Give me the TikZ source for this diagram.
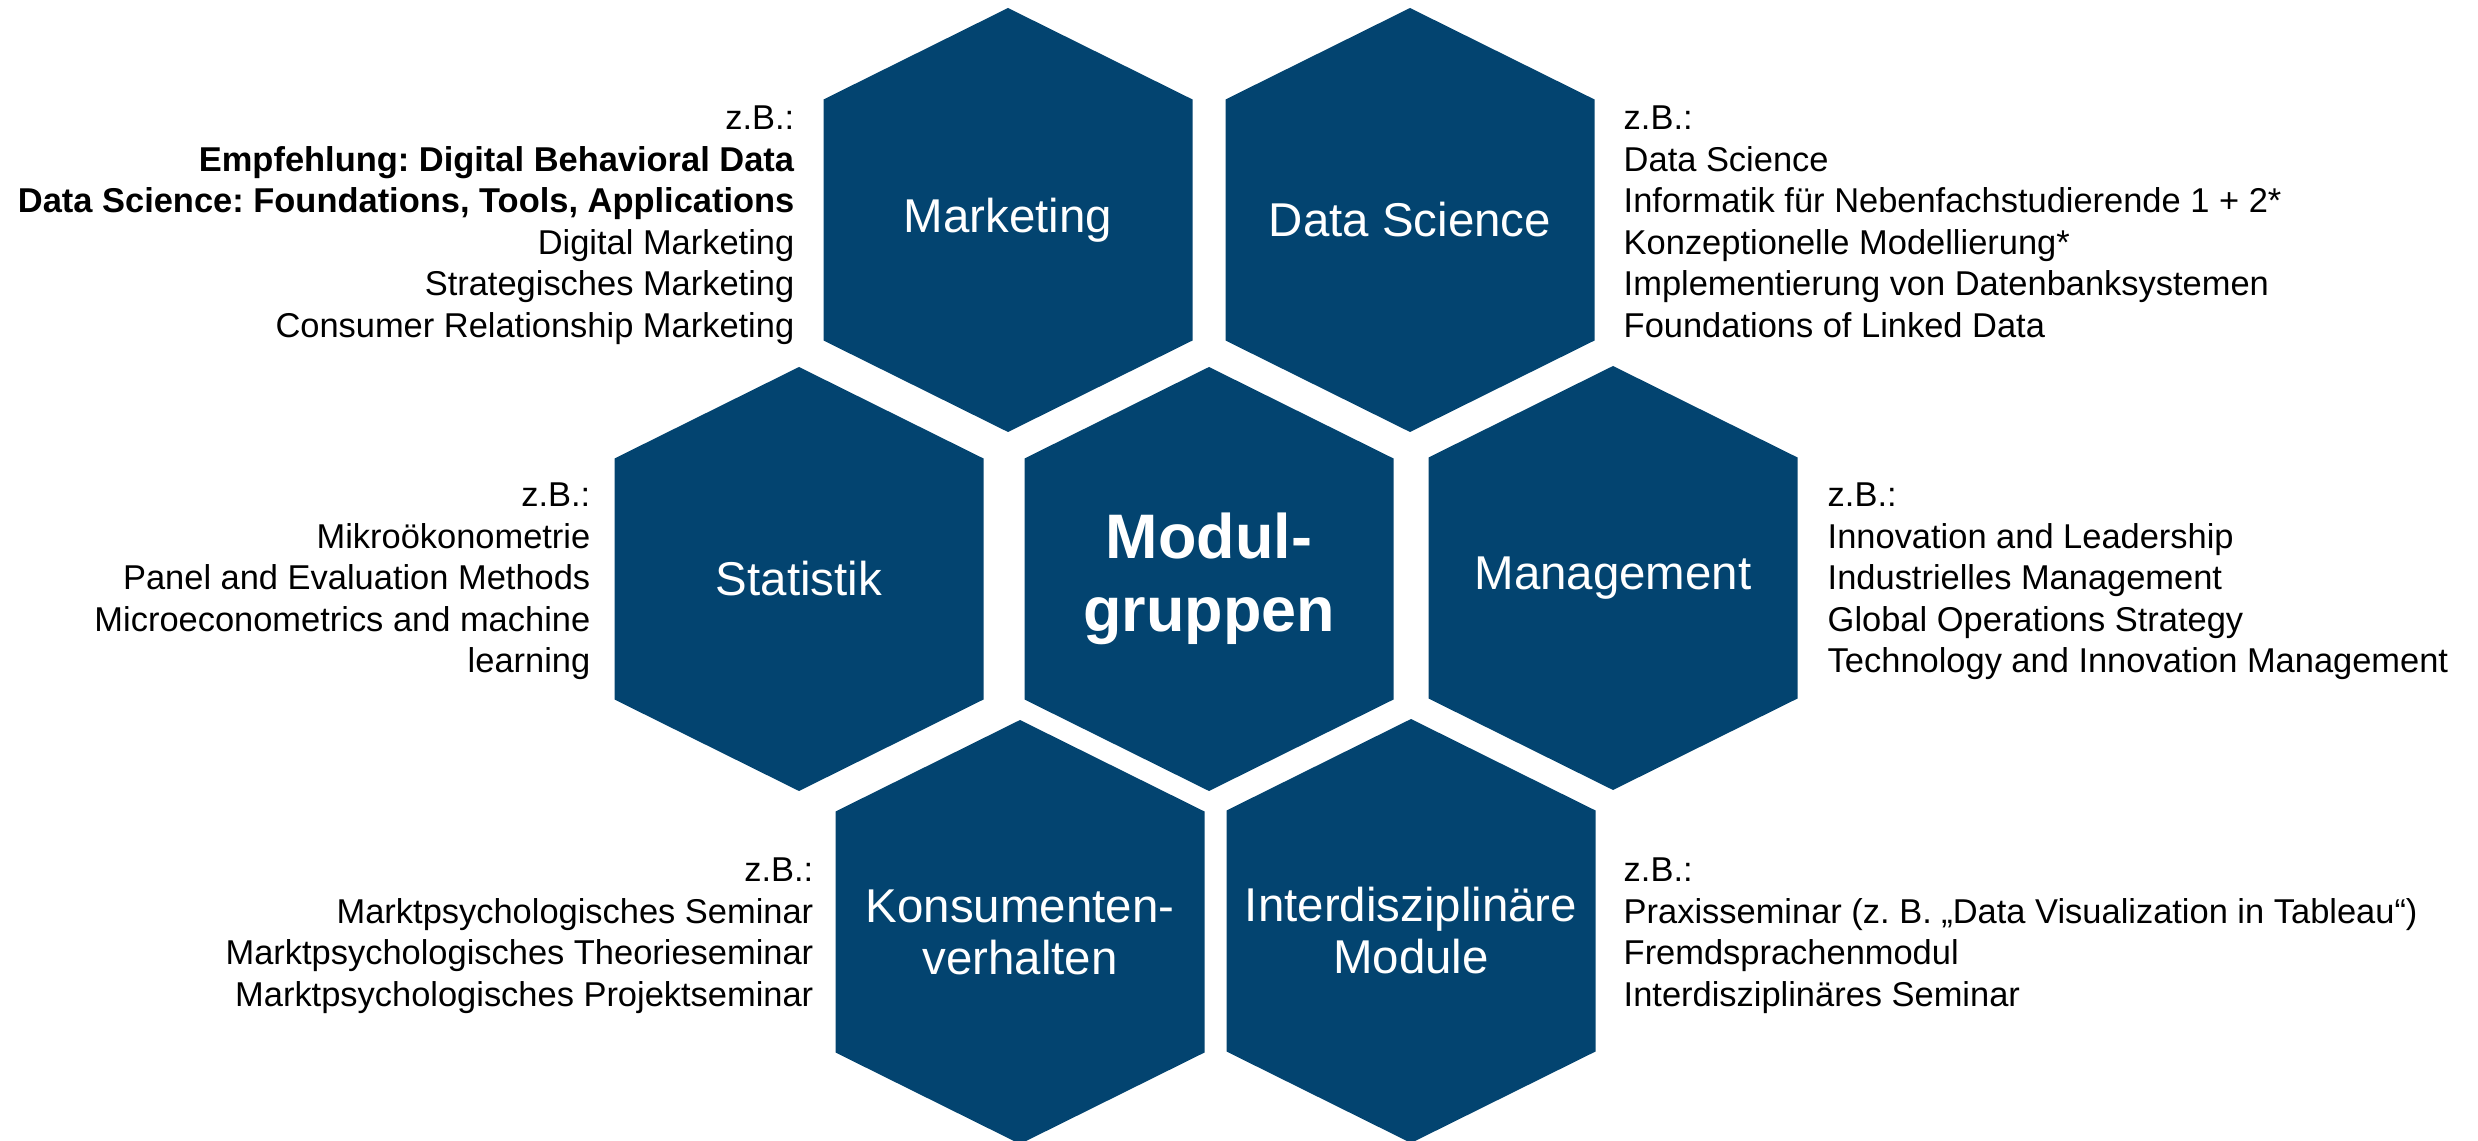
\documentclass[tikz,border=0pt]{standalone}
\usepackage{fontspec}
\setmainfont{Liberation Sans}
\frenchspacing
\definecolor{hexblue}{RGB}{3,68,112}

\begin{document}
\begin{tikzpicture}[
		hexlabel/.style={text=white, align=center, inner sep=0pt, font=\fontsize{13.5}{14.8}\selectfont},
		examples/.style={inner sep=0pt, font=\fontsize{9.8}{11.85}\selectfont}
	]
		
		% Page size of the picture
		\useasboundingbox (0,0) rectangle (24.78,11.4);
		\clip (0,0) rectangle (24.78,11.4);
		
		% Draw the seven hexagons
		\foreach \x/\y in {10.08/9.20, 14.10/9.20, 7.99/5.61, 12.09/5.61, 16.13/5.62, 10.20/2.08, 14.11/2.09}
			\fill[hexblue] (\x,\y) ++(0,2.12) -- ++(1.845,-0.915) -- ++(0,-2.41) -- ++(-1.845,-0.915) -- ++(-1.845,0.915) -- ++(0,2.41) -- cycle;
		
		% Labels of the module groups
		\node[hexlabel] (marketing) at (10.08,9.20) {Marketing};
		\node[hexlabel] (datasci) at (14.10,9.20) {Data Science};
		\node[hexlabel] (statistik) at (7.99,5.61) {Statistik};
		\node[hexlabel, font=\fontsize{17.9}{20.7}\selectfont\bfseries] (modul) at (12.09,5.61) {Modul-\\gruppen};
		\node[hexlabel] (management) at (16.13,5.62) {Management};
		\node[hexlabel] (konsum) at (10.20,2.08) {Konsumenten-\\verhalten};
		\node[hexlabel] (inter) at (14.11,2.09) {Interdisziplinäre\\Module};
		
		% Examples next to each group
		\node[examples, anchor=north east, align=right] (marketinglist) at (7.95,10.35) {z.B.:\\
			\textbf{Empfehlung: Digital Behavioral Data}\\
			\textbf{Data Science: Foundations, Tools, Applications}\\
			Digital Marketing\\
			Strategisches Marketing\\
			Consumer Relationship Marketing};
		\node[examples, anchor=north west, align=left] (datascilist) at (16.23,10.35) {z.B.:\\
			Data Science\\
			Informatik für Nebenfachstudierende 1 + 2*\\
			Konzeptionelle Modellierung*\\
			Implementierung von Datenbanksystemen\\
			Foundations of Linked Data};
		\node[examples, anchor=north east, align=right] (statistiklist) at (5.91,6.58) {z.B.:\\
			Mikroökonometrie\\
			Panel and Evaluation Methods\\
			Microeconometrics and machine\\
			learning};
		\node[examples, anchor=north west, align=left] (managementlist) at (18.27,6.58) {z.B.:\\
			Innovation and Leadership\\
			Industrielles Management\\
			Global Operations Strategy\\
			Technology and Innovation Management};
		\node[examples, anchor=north east, align=right] (konsumlist) at (8.14,2.83) {z.B.:\\
			Marktpsychologisches Seminar\\
			Marktpsychologisches Theorieseminar\\
			Marktpsychologisches Projektseminar};
		\node[examples, anchor=north west, align=left] (interlist) at (16.23,2.83) {z.B.:\\
			Praxisseminar (z. B. „Data Visualization in Tableau“)\\
			Fremdsprachenmodul\\
			Interdisziplinäres Seminar};
		
	\end{tikzpicture}
\end{document}
